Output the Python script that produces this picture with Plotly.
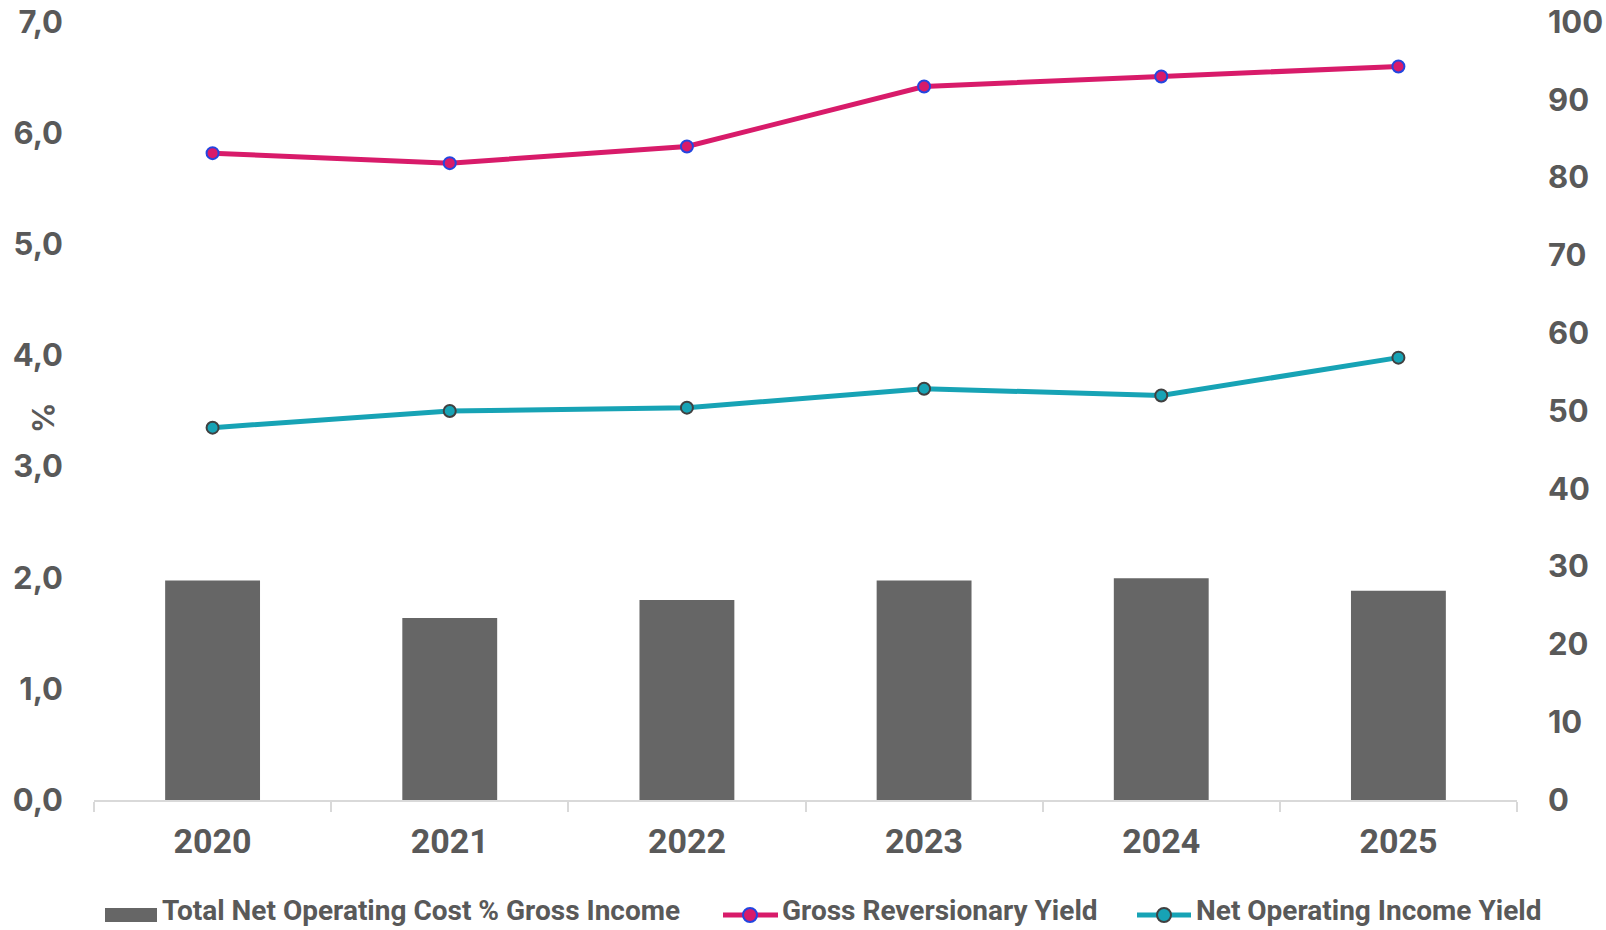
import plotly.graph_objects as go

# Annual series
years = ["2020", "2021", "2022", "2023", "2024", "2025"]
net_operating_cost_pct = [28.2, 23.4, 25.7, 28.2, 28.5, 26.9]          # right axis
gross_reversionary_yield = [5.82, 5.73, 5.88, 6.42, 6.51, 6.60]        # left axis, %
net_operating_income_yield = [3.35, 3.50, 3.53, 3.70, 3.64, 3.98]      # left axis, %

left_ticks = [0, 1, 2, 3, 4, 5, 6, 7]
right_ticks = [0, 10, 20, 30, 40, 50, 60, 70, 80, 90, 100]

series_names = [
    "Total Net Operating Cost % Gross Income",
    "Gross Reversionary Yield",
    "Net Operating Income Yield",
]

TEXT = "#595959"
BAR = "#666666"
PINK = "#D81B6A"
TEAL = "#17A3B5"
PINK_EDGE = "#2346E0"
TEAL_EDGE = "#404040"
AXIS = "#D9D9D9"

W, H = 1606, 930
M_L, M_R, M_T, M_B = 94, 89, 22, 130
PLOT_W = W - M_L - M_R
PLOT_H = H - M_T - M_B

fig = go.Figure()

fig.add_trace(go.Bar(
    x=years, y=net_operating_cost_pct, yaxis="y2", name=series_names[0],
    marker=dict(color=BAR, line=dict(width=0)),
))
fig.add_trace(go.Scatter(
    x=years, y=gross_reversionary_yield, mode="lines+markers", name=series_names[1],
    line=dict(color=PINK, width=5),
    marker=dict(size=12, color=PINK, line=dict(color=PINK_EDGE, width=2)),
))
fig.add_trace(go.Scatter(
    x=years, y=net_operating_income_yield, mode="lines+markers", name=series_names[2],
    line=dict(color=TEAL, width=5),
    marker=dict(size=12, color=TEAL, line=dict(color=TEAL_EDGE, width=2)),
))


# Legend drawn below the plot: pixel positions converted to paper coordinates
def px(x):
    return (x - M_L) / PLOT_W


def py(y):
    return (H - M_B - y) / PLOT_H


LEG_Y = 915       # swatch centre line
LEG_TEXT_Y = 911  # text box centre
legend_font = dict(family="Roboto", size=28, color=TEXT, weight="bold")
shapes = [
    # bar swatch
    dict(type="rect", xref="paper", yref="paper",
         x0=px(105), x1=px(157), y0=py(922), y1=py(908),
         fillcolor=BAR, line=dict(width=0)),
    # Gross Reversionary Yield swatch
    dict(type="line", xref="paper", yref="paper",
         x0=px(723), x1=px(778), y0=py(LEG_Y), y1=py(LEG_Y),
         line=dict(color=PINK, width=5)),
    dict(type="circle", xref="paper", yref="paper",
         x0=px(743), x1=px(757), y0=py(LEG_Y + 7), y1=py(LEG_Y - 7),
         fillcolor=PINK, line=dict(color=PINK_EDGE, width=2)),
    # Net Operating Income Yield swatch
    dict(type="line", xref="paper", yref="paper",
         x0=px(1137), x1=px(1191), y0=py(LEG_Y), y1=py(LEG_Y),
         line=dict(color=TEAL, width=5)),
    dict(type="circle", xref="paper", yref="paper",
         x0=px(1157), x1=px(1171), y0=py(LEG_Y + 7), y1=py(LEG_Y - 7),
         fillcolor=TEAL, line=dict(color=TEAL_EDGE, width=2)),
]

annotations = [
    dict(text="%", textangle=-90, showarrow=False,
         xref="paper", yref="paper", x=0, y=0.5, xanchor="center", yanchor="middle",
         xshift=-51, yshift=-7,
         font=dict(family="Inter", size=30, color=TEXT, weight="bold")),
]
for name, x_left in zip(series_names, [160, 780, 1194]):
    annotations.append(dict(
        text=name, showarrow=False, xref="paper", yref="paper",
        x=px(x_left), y=py(LEG_TEXT_Y), xanchor="left", yanchor="middle",
        font=legend_font,
    ))

tick_font = dict(family="Inter", size=31, color=TEXT, weight="bold")

fig.update_layout(
    width=W, height=H,
    margin=dict(l=M_L, r=M_R, t=M_T, b=M_B, autoexpand=False),
    paper_bgcolor="white", plot_bgcolor="white",
    separators=",.",
    bargap=0.6,
    showlegend=False,
    xaxis=dict(
        type="category", showgrid=False, zeroline=False, automargin=False,
        showline=True, linecolor=AXIS, linewidth=1.5,
        ticks="outside", tickson="boundaries", ticklen=10, tickcolor=AXIS, tickwidth=1.5,
        tickfont=dict(family="Roboto", size=34, color=TEXT, weight="bold"),
        ticklabelstandoff=10,
    ),
    yaxis=dict(
        range=[0, 7], tickvals=left_ticks, tickformat=".1f", automargin=False,
        showgrid=False, zeroline=False, showline=False, ticks="",
        tickfont=tick_font, ticklabelstandoff=30,
    ),
    yaxis2=dict(
        range=[0, 100], tickvals=right_ticks, overlaying="y", side="right",
        automargin=False,
        showgrid=False, zeroline=False, showline=False, ticks="",
        tickfont=tick_font, ticklabelstandoff=30,
    ),
    shapes=shapes,
    annotations=annotations,
)

fig.write_html("out.html")
